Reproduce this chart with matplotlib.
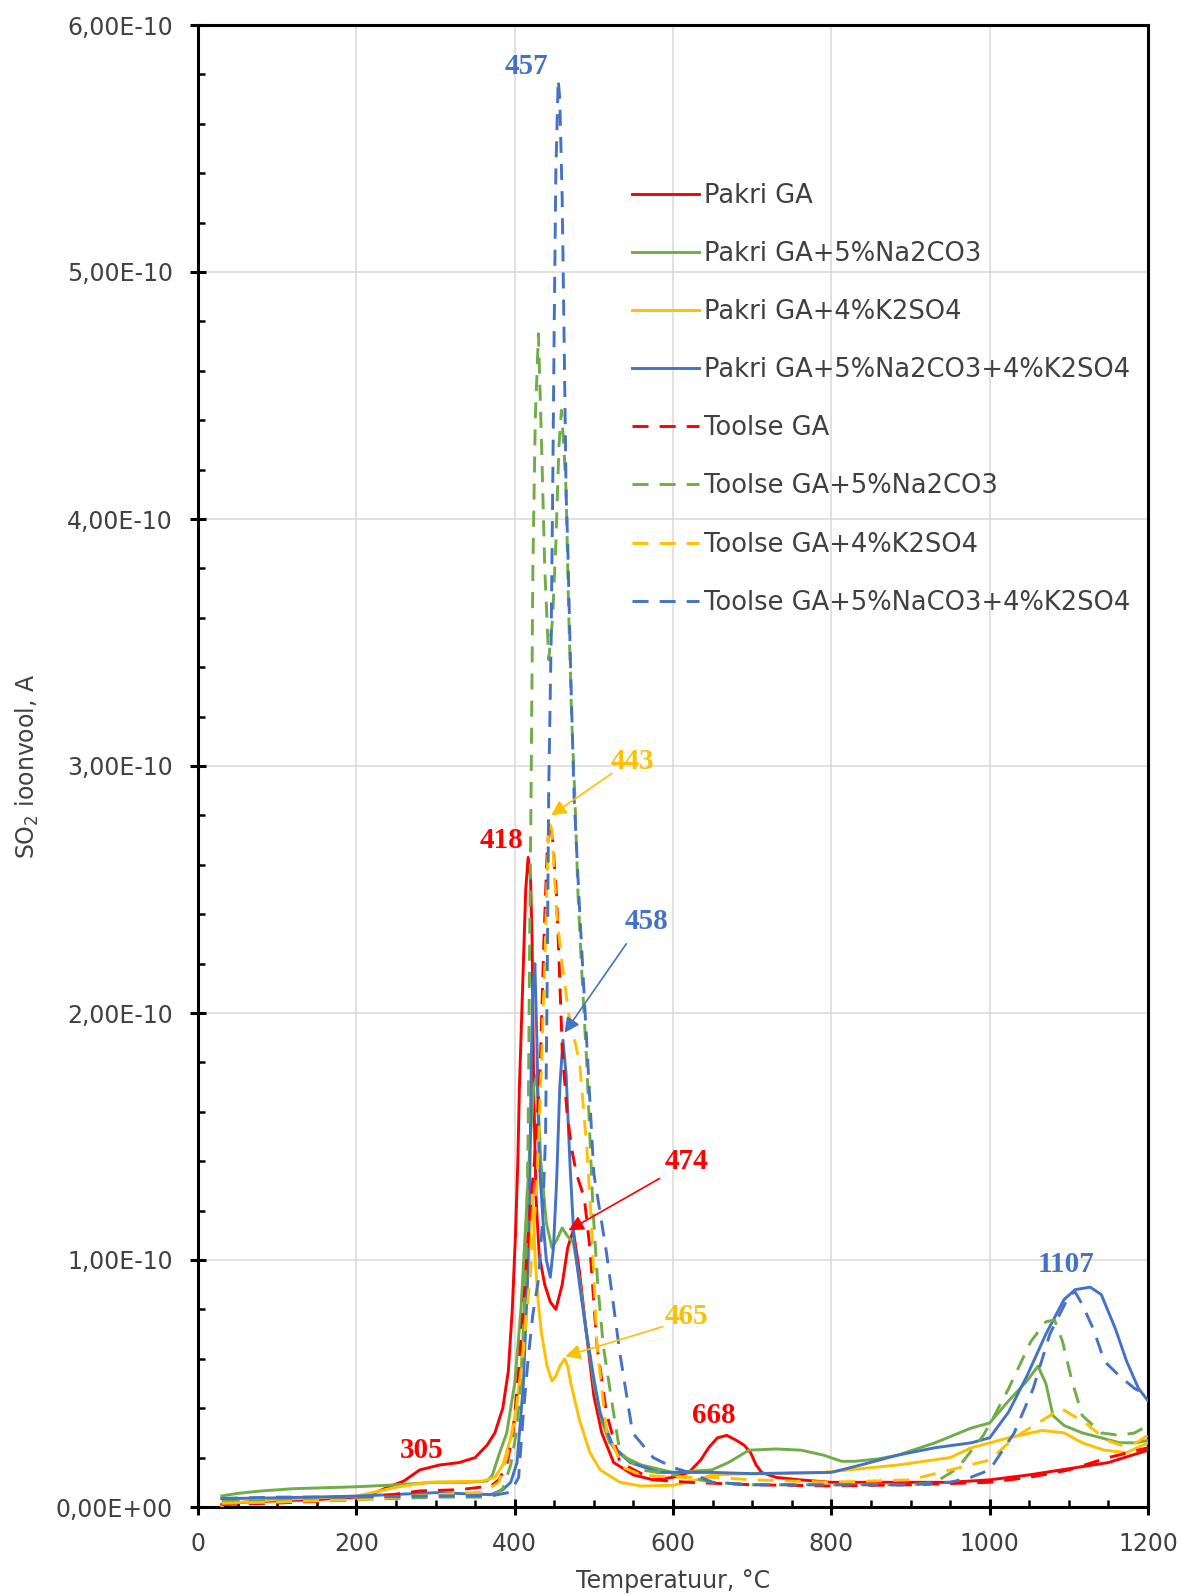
import numpy as np
import matplotlib.pyplot as plt
from matplotlib.ticker import FixedLocator, FuncFormatter

# values, intensity in units of 1e-10 A
SCALE = 1e-10

pakri_ga_t = [30, 60, 100, 150, 200, 225, 240, 260, 280, 305, 330, 350, 365, 375, 385, 392, 397, 401, 404,
              406, 408, 411, 414, 417, 420, 422, 424, 427, 431, 438, 445, 452, 460, 467, 474, 482, 490, 500,
              510, 525, 550, 575, 600, 620, 635, 645, 656, 668, 680, 690, 698, 705, 712, 730, 760, 800, 850,
              900, 950, 1000, 1050, 1100, 1150, 1200]
pakri_ga_y = [0.01, 0.02, 0.025, 0.03, 0.04, 0.06, 0.08, 0.105, 0.15, 0.17, 0.18, 0.2, 0.25, 0.3, 0.4, 0.55,
              0.8, 1.1, 1.4, 1.7, 1.9, 2.2, 2.5, 2.63, 2.55, 2.3, 1.7, 1.25, 1.02, 0.9, 0.83, 0.8, 0.9, 1.05,
              1.12, 0.95, 0.72, 0.45, 0.3, 0.18, 0.13, 0.11, 0.12, 0.14, 0.19, 0.24, 0.28, 0.29, 0.27, 0.25,
              0.22, 0.17, 0.14, 0.12, 0.11, 0.1, 0.1, 0.1, 0.1, 0.11, 0.13, 0.155, 0.18, 0.23]

pakri_na_t = [30, 50, 80, 120, 200, 240, 300, 340, 365, 372, 380, 390, 400, 408, 414, 419, 424, 428, 433,
              440, 447, 453, 460, 466, 474, 482, 490, 500, 510, 520, 540, 560, 600, 649, 670, 696, 730, 762,
              790, 813, 830, 860, 884, 931, 977, 1000, 1024, 1047, 1061, 1071, 1080, 1094, 1117, 1141, 1164,
              1185, 1200]
pakri_na_y = [0.045, 0.055, 0.065, 0.074, 0.082, 0.088, 0.1, 0.1, 0.105, 0.13, 0.21, 0.3, 0.5, 0.8, 1.15,
              1.45, 1.7, 1.75, 1.4, 1.15, 1.05, 1.08, 1.13, 1.1, 1.07, 0.92, 0.72, 0.5, 0.35, 0.26, 0.2,
              0.17, 0.14, 0.15, 0.18, 0.23, 0.235, 0.23, 0.21, 0.185, 0.185, 0.195, 0.21, 0.26, 0.32, 0.34,
              0.43, 0.51, 0.57, 0.5, 0.37, 0.33, 0.3, 0.28, 0.26, 0.26, 0.27]

pakri_k_t = [30, 34, 60, 100, 200, 250, 290, 360, 375, 385, 395, 402, 411, 417, 422, 426, 430, 434, 441,
             447, 452, 457, 463, 467, 471, 482, 495, 508, 533, 560, 600, 630, 650, 700, 790, 884, 950, 977,
             1024, 1066, 1094, 1117, 1145, 1173, 1200]
pakri_k_y = [0.0, 0.015, 0.02, 0.03, 0.044, 0.08, 0.1, 0.105, 0.12, 0.17, 0.28, 0.4, 0.65, 0.95, 1.3, 1.0,
             0.82, 0.7, 0.57, 0.51, 0.53, 0.57, 0.6, 0.57, 0.5, 0.35, 0.22, 0.15, 0.1, 0.085, 0.088, 0.11,
             0.13, 0.135, 0.14, 0.17, 0.2, 0.24, 0.28, 0.31, 0.3, 0.26, 0.23, 0.22, 0.26]

pakri_nak_t = [30, 100, 200, 300, 370, 385, 395, 403, 411, 416, 419, 421, 423, 425.5, 428, 431, 436, 440,
               445, 449, 453, 457, 461, 465, 470, 475, 482, 490, 500, 508, 525, 546, 583, 600, 650, 700,
               800, 837, 884, 931, 977, 1000, 1024, 1047, 1071, 1094, 1108, 1127, 1141, 1159, 1173, 1188, 1200]
pakri_nak_y = [0.034, 0.037, 0.044, 0.058, 0.05, 0.07, 0.1, 0.18, 0.5, 0.9, 1.3, 1.8, 2.1, 2.2, 1.9, 1.4,
               1.15, 1.0, 0.93, 1.05, 1.32, 1.7, 1.89, 1.75, 1.38, 1.08, 0.9, 0.72, 0.52, 0.38, 0.24, 0.18,
               0.14, 0.14, 0.14, 0.135, 0.14, 0.17, 0.21, 0.24, 0.26, 0.28, 0.385, 0.53, 0.7, 0.84, 0.88,
               0.89, 0.86, 0.72, 0.59, 0.48, 0.43]

toolse_ga_t = [30, 100, 200, 280, 330, 370, 380, 390, 398, 405, 412, 418, 425, 432, 437, 441, 444, 448, 453,
               457, 460, 466, 472, 478, 488, 495, 504, 516, 533, 575, 620, 700, 800, 900, 1000, 1050, 1100,
               1150, 1200]
toolse_ga_y = [0.01, 0.016, 0.03, 0.065, 0.07, 0.085, 0.11, 0.17, 0.3, 0.55, 0.85, 1.15, 1.4, 1.75, 2.3,
               2.65, 2.78, 2.7, 2.47, 2.13, 1.86, 1.6, 1.45, 1.35, 1.25, 1.05, 0.65, 0.38, 0.18, 0.11, 0.1,
               0.09, 0.085, 0.09, 0.1, 0.12, 0.15, 0.2, 0.24]

toolse_na_t = [30, 100, 200, 300, 370, 385, 395, 402, 408, 412, 415, 417, 419, 421, 423, 426, 430, 434, 438,
               443, 448, 452, 456, 459, 462, 465, 468, 472, 476, 480, 485, 491, 495, 499, 505, 512, 525, 533,
               560, 600, 650, 700, 800, 900, 931, 959, 992, 1006, 1024, 1052, 1071, 1082, 1092, 1104, 1117,
               1141, 1164, 1183, 1200]
toolse_na_y = [0.023, 0.025, 0.03, 0.04, 0.04, 0.075, 0.17, 0.3, 0.5, 0.8, 1.1, 1.5, 2.3, 3.0, 3.8, 4.4,
               4.75, 4.3, 3.8, 3.43, 3.6, 3.9, 4.3, 4.44, 4.3, 4.11, 3.65, 3.19, 2.88, 2.48, 2.15, 1.8, 1.5,
               1.2, 0.9, 0.65, 0.38, 0.22, 0.15, 0.13, 0.1, 0.09, 0.09, 0.09, 0.1, 0.155, 0.29, 0.37, 0.48,
               0.67, 0.75, 0.757, 0.67, 0.51, 0.37, 0.3, 0.29, 0.3, 0.33]

toolse_k_t = [30, 100, 200, 300, 360, 380, 390, 400, 410, 420, 428, 434, 439, 443, 447, 453, 460, 468, 482,
              491, 497, 504, 516, 537, 560, 600, 650, 700, 800, 900, 950, 1000, 1031, 1071, 1090, 1121, 1148,
              1166, 1185, 1200]
toolse_k_y = [0.015, 0.02, 0.03, 0.05, 0.06, 0.1, 0.2, 0.35, 0.6, 0.95, 1.3, 1.8, 2.3, 2.78, 2.74, 2.4, 2.2,
              2.0, 1.8, 1.46, 1.15, 0.65, 0.31, 0.16, 0.13, 0.12, 0.12, 0.11, 0.1, 0.11, 0.15, 0.19, 0.28,
              0.36, 0.4, 0.34, 0.27, 0.25, 0.26, 0.29]

toolse_nak_t = [30, 100, 200, 300, 370, 395, 405, 411, 417, 423, 430, 435, 439, 441, 443, 446, 448, 450,
                452, 455, 457, 460, 463, 465, 467, 471, 475, 481, 489, 500, 516, 533, 549, 575, 600, 620,
                650, 700, 800, 900, 950, 976, 1000, 1031, 1055, 1076, 1101, 1108, 1117, 1131, 1145, 1164,
                1183, 1200]
toolse_nak_y = [0.035, 0.04, 0.04, 0.045, 0.045, 0.06, 0.12, 0.38, 0.6, 0.78, 0.92, 1.15, 1.5, 2.1, 2.9,
                3.5, 4.1, 4.8, 5.4, 5.78, 5.7, 5.3, 4.6, 4.1, 3.9, 3.35, 2.88, 2.48, 2.0, 1.35, 1.03, 0.62,
                0.3, 0.2, 0.16, 0.14, 0.1, 0.09, 0.09, 0.09, 0.1, 0.12, 0.15, 0.3, 0.48, 0.7, 0.86, 0.87,
                0.82, 0.72, 0.59, 0.53, 0.48, 0.45]

series_labels = ['Pakri GA', 'Pakri GA+5%Na2CO3', 'Pakri GA+4%K2SO4', 'Pakri GA+5%Na2CO3+4%K2SO4',
                 'Toolse GA', 'Toolse GA+5%Na2CO3', 'Toolse GA+4%K2SO4', 'Toolse GA+5%NaCO3+4%K2SO4']

x_ticks = [0, 200, 400, 600, 800, 1000, 1200]
y_ticks = [0, 1, 2, 3, 4, 5, 6]

# peak labels: text, colour, text position, arrow tip (None = no arrow)
peak_text = ['457', '443', '418', '458', '474', '465', '305', '668', '1107']
peak_col = ['#4472C4', '#FFC000', '#FF0000', '#4472C4', '#FF0000', '#FFC000', '#FF0000', '#FF0000', '#4472C4']
peak_pos = [(415, 5.83), (549, 3.02), (383, 2.70), (567, 2.37), (617, 1.40), (617, 0.77), (282, 0.23),
            (652, 0.37), (1097, 0.98)]
arrow_from = [None, (523, 2.97), None, (541, 2.28), (583, 1.33), (587, 0.73), None, None, None]
arrow_to = [None, (446, 2.80), None, (463, 1.92), (468, 1.12), (464, 0.61), None, None, None]

RED, GREEN, YELLOW, BLUE = '#FF0000', '#70AD47', '#FFC000', '#4472C4'

fig = plt.figure(figsize=(11.82, 15.94), dpi=100)
ax = fig.add_axes([198 / 1182, 1 - 1507 / 1594, 950 / 1182, 1482 / 1594])

solid = [(pakri_ga_t, pakri_ga_y, RED), (pakri_na_t, pakri_na_y, GREEN),
         (pakri_k_t, pakri_k_y, YELLOW), (pakri_nak_t, pakri_nak_y, BLUE)]
dashed = [(toolse_ga_t, toolse_ga_y, RED), (toolse_na_t, toolse_na_y, GREEN),
          (toolse_k_t, toolse_k_y, YELLOW), (toolse_nak_t, toolse_nak_y, BLUE)]

lw = 2.1
for i, (t, y, c) in enumerate(solid):
    ax.plot(t, np.array(y) * SCALE, color=c, lw=lw, label=series_labels[i], zorder=3 + i * 0.1)
for i, (t, y, c) in enumerate(dashed):
    ax.plot(t, np.array(y) * SCALE, color=c, lw=lw, ls=(0, (5.5, 3.8)), label=series_labels[4 + i],
            zorder=4 + i * 0.1)

# peak labels and arrows
for txt, col, pos, a0, a1 in zip(peak_text, peak_col, peak_pos, arrow_from, arrow_to):
    ax.text(pos[0], pos[1] * SCALE, txt, color=col, fontsize=21, fontweight='bold',
            family='Liberation Serif', ha='center', va='center', zorder=10)
    if a0 is not None:
        ax.annotate('', xy=(a1[0], a1[1] * SCALE), xytext=(a0[0], a0[1] * SCALE),
                    arrowprops=dict(arrowstyle='-|>,head_length=0.9,head_width=0.45', color=col, lw=1.2,
                                    shrinkA=0, shrinkB=0), zorder=10)

ax.set_xlim(0, 1200)
ax.set_ylim(0, 6e-10)
ax.xaxis.set_major_locator(FixedLocator(x_ticks))
ax.xaxis.set_minor_locator(FixedLocator(np.arange(0, 1201, 50)))
ax.yaxis.set_major_locator(FixedLocator(np.array(y_ticks) * SCALE))
ax.yaxis.set_minor_locator(FixedLocator(np.arange(0, 31) * 0.2 * SCALE))
ax.yaxis.set_major_formatter(FuncFormatter(lambda v, p: f"{v:.2E}".replace('.', ',')))

ax.grid(True, which='major', color='#D9D9D9', lw=1.1, zorder=0)
ax.set_axisbelow(True)
for s in ax.spines.values():
    s.set_linewidth(2.2)
    s.set_color('black')

ax.tick_params(which='major', direction='inout', length=12, width=2.2, labelsize=17,
               labelcolor='#404040')
ax.tick_params(axis='y', which='major', pad=12)
ax.tick_params(axis='x', which='major', pad=12)
ax.tick_params(which='minor', direction='in', length=5, width=1.8)

ax.set_xlabel('Temperatuur, °C', fontsize=17, color='#404040')
ax.set_ylabel('SO$_2$ ioonvool, A', fontsize=17, color='#404040')
ax.xaxis.set_label_coords(0.5, -0.042)
ax.yaxis.set_label_coords(-0.165, 0.5)

ax.legend(loc='upper left', bbox_to_anchor=(0.457, 0.8935), frameon=False, fontsize=18.5,
          handlelength=2.6, handletextpad=0.18, labelspacing=1.25, borderpad=0, borderaxespad=0,
          labelcolor='#404040')

fig.savefig('out.png', dpi=100)
